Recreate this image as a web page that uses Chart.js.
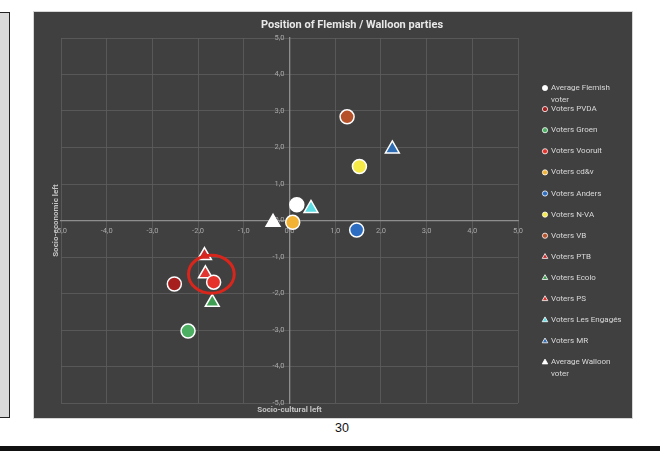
<!DOCTYPE html>
<html>
<head>
<meta charset="utf-8">
<script src="https://cdn.jsdelivr.net/npm/chart.js@4.4.0/dist/chart.umd.min.js"></script>
<style>
  html, body { margin: 0; padding: 0; background: #fff; width: 660px; height: 451px; overflow: hidden; position: relative; font-family: Arial, "Liberation Sans", sans-serif; }
  #side { position: absolute; left: -1px; top: 12px; width: 9px; height: 404px; background: #d9d9d9; border: 1px solid #222; }
  #paren { position: absolute; left: -4px; top: 188px; font-size: 12px; color: #111; }
  #box { position: absolute; left: 34px; top: 12px; width: 598px; height: 406px; background: #404040; box-shadow: 0 0 0 1px #d6d6d6; }
  #page { position: absolute; left: 335px; top: 421px; font-size: 12.5px; color: #111; }
  #bar { position: absolute; left: 0; top: 446px; width: 660px; height: 5px; background: #111; }
</style>
</head>
<body>
<div id="side"></div>
<div id="paren">)</div>
<div id="box"><canvas id="myChart" width="598" height="406"></canvas></div>
<div id="page">30</div>
<div id="bar"></div>
<script>
// values
var partyLabels = ['Average Flemish voter', 'Voters PVDA', 'Voters Groen', 'Voters Vooruit', 'Voters cd&v',
    'Voters Anders', 'Voters N-VA', 'Voters VB', 'Voters PTB', 'Voters Ecolo', 'Voters PS',
    'Voters Les Engagés', 'Voters MR', 'Average Walloon voter'];
var socioCultural = [0.16, -2.52, -2.22, -1.66, 0.07, 1.47, 1.53, 1.26, -1.86, -1.69, -1.84, 0.47, 2.25, -0.36];
var socioEconomic = [0.43, -1.74, -3.03, -1.69, -0.05, -0.26, 1.48, 2.84, -0.96, -2.24, -1.46, 0.33, 1.96, -0.05];
var tickValues = [-5, -4, -3, -2, -1, 0, 1, 2, 3, 4, 5];
var tickLabels = ['-5,0', '-4,0', '-3,0', '-2,0', '-1,0', '0,0', '1,0', '2,0', '3,0', '4,0', '5,0'];

// styles
var pointColors = ['#ffffff', '#a61e1e', '#4caf62', '#e5322a', '#f2b233', '#2c6dc2', '#f6ea48', '#b5522a',
    '#cc2a2a', '#3f9e52', '#e03530', '#5cdde4', '#2e6db4', '#ffffff'];
var pointShapes = ['circle', 'circle', 'circle', 'circle', 'circle', 'circle', 'circle', 'circle',
    'triangle', 'triangle', 'triangle', 'triangle', 'triangle', 'triangle'];
var ring = { x: -1.71, y: -1.47, rx: 0.5, ry: 0.52 };

function tickText(v) {
    var i = tickValues.indexOf(v);
    return i >= 0 ? tickLabels[i] : '';
}

var datasets = partyLabels.map(function (name, i) {
    var tri = pointShapes[i] === 'triangle';
    return {
        label: name,
        data: [{ x: socioCultural[i], y: socioEconomic[i] }],
        pointStyle: pointShapes[i],
        backgroundColor: pointColors[i],
        borderColor: '#ffffff',
        borderWidth: 1.5,
        pointRadius: tri ? 8 : 7,
        pointHoverRadius: tri ? 8 : 7
    };
});

var deco = {
    id: 'deco',
    afterDatasetsDraw: function (chart) {
        var ctx = chart.ctx, xs = chart.scales.x, ys = chart.scales.y;
        // red highlight ring
        var cx = xs.getPixelForValue(ring.x), cy = ys.getPixelForValue(ring.y);
        var rx = xs.getPixelForValue(ring.x + ring.rx) - cx;
        var ry = cy - ys.getPixelForValue(ring.y + ring.ry);
        ctx.save();
        ctx.beginPath();
        ctx.ellipse(cx, cy, rx, ry, 0, 0, Math.PI * 2);
        ctx.strokeStyle = '#d9261c';
        ctx.lineWidth = 3;
        ctx.stroke();
        ctx.restore();
    },
    afterDraw: function (chart) {
        var ctx = chart.ctx, xs = chart.scales.x, area = chart.chartArea;
        ctx.save();
        // title
        ctx.fillStyle = '#e8e8e8';
        ctx.font = 'bold 11px Roboto';
        ctx.textAlign = 'center';
        ctx.textBaseline = 'middle';
        ctx.fillText('Position of Flemish / Walloon parties', 318, 13);
        // axis titles
        ctx.fillStyle = '#c4c4c4';
        ctx.font = 'bold 8px Roboto';
        ctx.fillText('Socio-cultural left', xs.getPixelForValue(0), area.bottom + 7);
        ctx.save();
        ctx.translate(22, (area.top + area.bottom) / 2);
        ctx.rotate(-Math.PI / 2);
        ctx.fillText('Socio-economic left', 0, 0);
        ctx.restore();
        // legend
        ctx.font = '8px Roboto';
        ctx.textAlign = 'left';
        chart.data.datasets.forEach(function (ds, i) {
            var y = 76 + i * 21.1;
            ctx.fillStyle = ds.backgroundColor;
            ctx.strokeStyle = '#ffffff';
            ctx.lineWidth = 0.8;
            Chart.helpers.drawPoint(ctx, { pointStyle: ds.pointStyle, radius: ds.pointStyle === 'triangle' ? 3.2 : 2.6, borderWidth: 0.8, rotation: 0 }, 511, y);
            ctx.fillStyle = '#d9d9d9';
            var words = ds.label.split(' '), line = '', ly = y;
            words.forEach(function (w) {
                var t = line ? line + ' ' + w : w;
                if (line && ctx.measureText(t).width > 76) {
                    ctx.fillText(line, 517, ly);
                    line = w;
                    ly += 11.5;
                } else {
                    line = t;
                }
            });
            ctx.fillText(line, 517, ly);
        });
        ctx.restore();
    }
};

var axisCommon = {
    type: 'linear',
    min: -5,
    max: 5,
    position: 'center',
    grid: { color: '#5e5e5e', lineWidth: 0.8, drawTicks: false },
    border: { display: true, color: '#8e8e8e', width: 1.3 },
    afterBuildTicks: function (s) { s.ticks = tickValues.map(function (v) { return { value: v }; }); },
    ticks: {
        color: '#a8a8a8',
        font: { family: 'Roboto', size: 7.5 },
        autoSkip: false,
        maxRotation: 0,
        callback: tickText
    }
};

let myScatter = new Chart(document.getElementById('myChart').getContext('2d'), {
    type: 'scatter',
    data: { datasets: datasets },
    options: {
        responsive: false,
        animation: false,
        events: [],
        layout: { padding: { left: 27, top: 26, right: 114, bottom: 15 } },
        plugins: { legend: { display: false }, title: { display: false }, tooltip: { enabled: false } },
        scales: {
            x: Object.assign({}, axisCommon, {
                afterFit: function (s) { s.height = 0; },
                ticks: Object.assign({}, axisCommon.ticks, { padding: 6 })
            }),
            y: Object.assign({}, axisCommon, {
                afterFit: function (s) { s.width = 0; },
                ticks: Object.assign({}, axisCommon.ticks, { padding: 5 })
            })
        }
    },
    plugins: [deco]
});
</script>
</body>
</html>
